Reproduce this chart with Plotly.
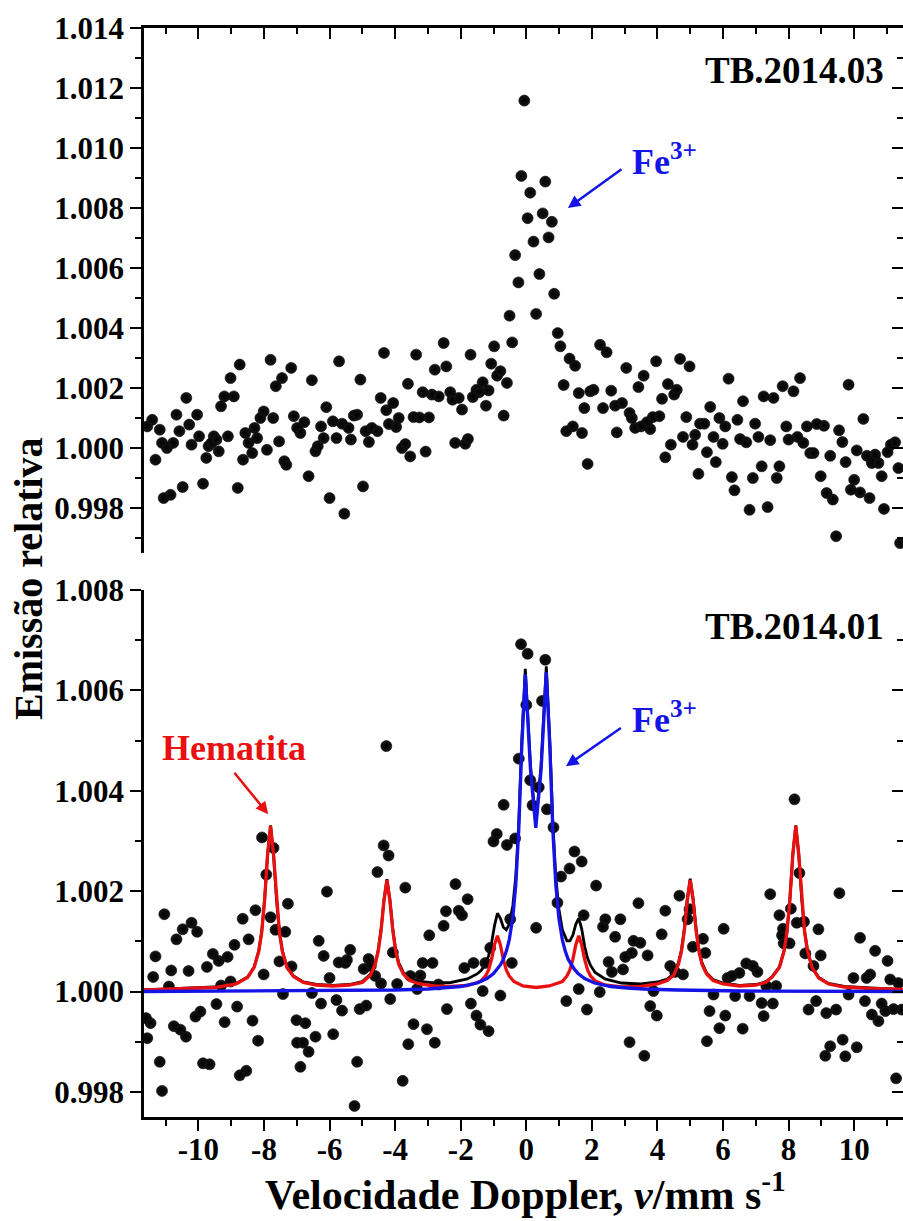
import plotly.graph_objects as go

# ---------------- data ----------------
# Top panel: TB.2014.03 (velocity mm/s, relative emission)
top_v = [-11.56, -11.41, -11.31, -11.18, -11.11, -11.06, -10.96, -10.85, -10.77, -10.67,
         -10.58, -10.48, -10.37, -10.28, -10.21, -10.04, -9.98, -9.86, -9.76, -9.69,
         -9.60, -9.53, -9.45, -9.38, -9.31, -9.21, -9.10, -9.02, -8.92, -8.80,
         -8.74, -8.64, -8.57, -8.47, -8.36, -8.29, -8.21, -8.11, -8.01, -7.91,
         -7.80, -7.72, -7.64, -7.54, -7.45, -7.38, -7.32, -7.17, -7.09, -6.99,
         -6.89, -6.77, -6.64, -6.54, -6.43, -6.36, -6.26, -6.18, -6.10, -6.00,
         -5.90, -5.79, -5.71, -5.62, -5.55, -5.42, -5.35, -5.26, -5.16, -5.06,
         -4.98, -4.90, -4.80, -4.71, -4.54, -4.44, -4.34, -4.27, -4.19, -4.06,
         -3.97, -3.89, -3.79, -3.69, -3.61, -3.54, -3.44, -3.36, -3.26, -3.16,
         -3.07, -2.97, -2.88, -2.79, -2.67, -2.52, -2.44, -2.32, -2.25, -2.17,
         -2.06, -1.96, -1.86, -1.78, -1.70, -1.63, -1.52, -1.43, -1.33, -1.23,
         -1.15, -1.07, -0.98, -0.89, -0.79, -0.69, -0.59, -0.51, -0.43, -0.34,
         -0.24, -0.15, -0.06, 0.04, 0.12, 0.22, 0.30, 0.40, 0.50, 0.58,
         0.68, 0.78, 0.85, 0.96, 1.04, 1.14, 1.22, 1.32, 1.42, 1.49,
         1.60, 1.70, 1.77, 1.87, 1.95, 2.05, 2.25, 2.34, 2.45, 2.59,
         2.71, 2.76, 2.92, 3.05, 3.15, 3.22, 3.32, 3.42, 3.50, 3.58,
         3.68, 3.78, 3.86, 3.96, 4.06, 4.14, 4.24, 4.32, 4.41, 4.51,
         4.59, 4.69, 4.78, 4.88, 4.98, 5.07, 5.15, 5.25, 5.30, 5.43,
         5.51, 5.61, 5.71, 5.78, 5.89, 5.99, 6.07, 6.17, 6.27, 6.35,
         6.44, 6.52, 6.61, 6.71, 6.81, 6.91, 6.98, 7.08, 7.18, 7.24,
         7.36, 7.44, 7.54, 7.64, 7.72, 7.82, 7.93, 8.00, 8.15, 8.27,
         8.35, 8.45, 8.56, 8.66, 8.76, 8.86, 8.98, 9.08, 9.16, 9.27,
         9.35, 9.45, 9.54, 9.64, 9.74, 9.83, 9.90, 10.00, 10.08, 10.18,
         10.28, 10.39, 10.47, 10.54, 10.64, 10.74, 10.84, 10.91, 11.02, 11.12,
         11.25, 11.35, 11.40]
top_e = [1.00072, 1.00094, 0.99961, 1.00061, 1.00017, 0.99833, 1.00000, 0.99844, 1.00017, 1.00111,
         1.00056, 0.99870, 1.00167, 1.00078, 1.00011, 1.00111, 1.00039, 0.99881, 0.99967, 1.00006,
         1.00017, 1.00039, 1.00028, 0.99989, 1.00139, 1.00172, 1.00039, 1.00233, 1.00172, 0.99867,
         1.00278, 0.99961, 1.00050, 1.00017, 0.99983, 1.00067, 1.00033, 1.00100, 1.00122, 0.99994,
         1.00294, 1.00100, 1.00206, 1.00022, 1.00233, 0.99956, 0.99944, 1.00267, 1.00106, 1.00067,
         1.00050, 1.00086, 0.99906, 1.00226, 0.99989, 1.00006, 1.00072, 1.00033, 1.00136, 0.99833,
         1.00089, 1.00033, 1.00289, 1.00081, 0.99781, 1.00067, 1.00028, 1.00108, 1.00111, 1.00228,
         0.99872, 1.00056, 1.00020, 1.00067, 1.00056, 1.00167, 1.00317, 1.00126, 1.00080, 1.00150,
         1.00070, 1.00100, 1.00000, 1.00013, 1.00214, 0.99972, 1.00103, 1.00311, 1.00102, 1.00186,
         0.99988, 1.00102, 1.00178, 1.00261, 1.00172, 1.00350, 1.00272, 1.00186, 1.00161, 1.00017,
         1.00167, 1.00128, 1.00014, 1.00030, 1.00311, 1.00170, 1.00194, 1.00186, 1.00219, 1.00141,
         1.00192, 1.00281, 1.00339, 1.00241, 1.00256, 1.00108, 1.00217, 1.00441, 1.00352, 1.00643,
         1.00552, 1.00907, 1.01158, 1.00766, 1.00851, 1.00688, 1.00447, 1.00580, 1.00782, 1.00888,
         1.00702, 1.00754, 1.00514, 1.00383, 1.00339, 1.00210, 1.00056, 1.00298, 1.00072, 1.00274,
         1.00183, 1.00050, 1.00133, 0.99947, 1.00189, 1.00194, 1.00344, 1.00133, 1.00319, 1.00191,
         1.00141, 1.00052, 1.00150, 1.00267, 1.00117, 1.00100, 1.00067, 1.00203, 1.00072, 1.00241,
         1.00086, 1.00063, 1.00103, 1.00289, 1.00106, 1.00164, 0.99969, 1.00213, 1.00011, 1.00178,
         1.00194, 1.00297, 1.00037, 1.00103, 1.00272, 1.00011, 1.00044, 0.99914, 1.00081, 1.00081,
         0.99986, 1.00137, 1.00037, 0.99953, 1.00100, 1.00014, 1.00072, 1.00231, 0.99903, 0.99859,
         1.00094, 1.00030, 1.00156, 1.00019, 0.99794, 0.99900, 1.00081, 1.00037, 0.99939, 1.00172,
         0.99803, 1.00026, 1.00167, 0.99900, 0.99939, 1.00206, 1.00072, 1.00028, 1.00189, 1.00037,
         1.00233, 1.00017, 1.00072, 0.99983, 0.99983, 1.00080, 0.99906, 1.00074, 0.99850, 0.99974,
         0.99828, 0.99706, 1.00059, 1.00020, 0.99953, 1.00211, 0.99861, 0.99894, 0.99992, 0.99852,
         1.00097, 0.99974, 0.99833, 0.99950, 0.99978, 0.99950, 0.99906, 0.99797, 0.99986, 1.00011,
         1.00019, 0.99933, 0.99683]

# Bottom panel: TB.2014.01
bot_v = [-11.60, -11.56, -11.46, -11.38, -11.31, -11.18, -11.11, -11.04, -10.90, -10.83,
         -10.75, -10.67, -10.55, -10.48, -10.38, -10.30, -10.21, -10.09, -10.04, -9.94,
         -9.86, -9.74, -9.66, -9.56, -9.45, -9.38, -9.31, -9.20, -9.11, -9.02,
         -8.90, -8.82, -8.74, -8.65, -8.54, -8.47, -8.35, -8.26, -8.18, -8.06,
         -8.01, -7.93, -7.80, -7.71, -7.65, -7.53, -7.42, -7.35, -7.27, -7.16,
         -7.01, -6.99, -6.89, -6.81, -6.74, -6.64, -6.54, -6.43, -6.33, -6.26,
         -6.18, -6.08, -6.00, -5.89, -5.79, -5.72, -5.62, -5.52, -5.47, -5.37,
         -5.24, -5.16, -5.08, -4.96, -4.88, -4.81, -4.74, -4.61, -4.54, -4.43,
         -4.35, -4.27, -4.20, -4.15, -4.07, -3.94, -3.77, -3.69, -3.60, -3.54,
         -3.44, -3.33, -3.23, -3.16, -3.03, -2.96, -2.86, -2.79, -2.68, -2.52,
         -2.45, -2.42, -2.16, -2.06, -1.96, -1.89, -1.79, -1.69, -1.61, -1.52,
         -1.40, -1.33, -1.25, -1.15, -1.10, -1.00, -0.90, -0.79, -0.69, -0.59,
         -0.49, -0.44, -0.34, -0.23, -0.16, 0.00, 0.04, 0.12, 0.19, 0.30,
         0.38, 0.48, 0.58, 0.63, 0.83, 0.95, 1.06, 1.22, 1.32, 1.47,
         1.60, 1.69, 1.75, 1.85, 2.13, 2.24, 2.34, 2.41, 2.51, 2.61,
         2.71, 2.87, 2.95, 3.02, 3.15, 3.22, 3.27, 3.42, 3.48, 3.60,
         3.70, 3.78, 3.88, 3.98, 4.13, 4.24, 4.39, 4.54, 4.67, 4.78,
         4.92, 4.98, 5.08, 5.39, 5.46, 5.51, 5.59, 5.71, 5.89, 6.02,
         6.07, 6.14, 6.27, 6.37, 6.50, 6.60, 6.71, 6.81, 6.91, 7.05,
         7.18, 7.24, 7.32, 7.44, 7.52, 7.62, 7.72, 7.80, 7.83, 7.85,
         8.03, 8.07, 8.18, 8.25, 8.33, 8.47, 8.51, 8.61, 8.76, 8.84,
         8.91, 8.98, 9.12, 9.15, 9.27, 9.45, 9.55, 9.65, 9.73, 9.83,
         9.98, 10.08, 10.18, 10.33, 10.38, 10.49, 10.54, 10.64, 10.74, 10.84,
         10.95, 11.02, 11.10, 11.20, 11.28, 11.35, 11.45]
bot_e = [0.99947, 0.99907, 0.99937, 1.00029, 1.00070, 0.99860, 0.99802, 1.00154, 1.00010, 1.00042,
         0.99931, 1.00104, 0.99924, 1.00124, 0.99910, 1.00041, 1.00137, 0.99950, 1.00119, 0.99960,
         0.99857, 1.00049, 0.99855, 1.00075, 0.99975, 1.00061, 1.00012, 0.99939, 1.00069, 1.00020,
         1.00093, 0.99970, 0.99833, 1.00145, 0.99842, 1.00104, 0.99942, 1.00162, 0.99902, 1.00307,
         1.00034, 1.00233, 1.00148, 1.00286, 1.00123, 1.00060, 0.99995, 1.00119, 1.00175, 1.00050,
         0.99943, 0.99898, 0.99850, 0.99898, 0.99937, 0.99880, 0.99997, 0.99910, 1.00101, 0.99976,
         1.00071, 1.00199, 1.00027, 0.99915, 0.99983, 1.00058, 0.99962, 1.00057, 1.00063, 1.00083,
         0.99772, 0.99860, 0.99965, 1.00045, 0.99972, 1.00065, 1.00051, 1.00031, 1.00238, 1.00016,
         1.00291, 1.00489, 1.00271, 0.99985, 1.00078, 1.00015, 0.99822, 1.00207, 0.99895, 1.00031,
         0.99935, 1.00005, 1.00032, 1.00057, 0.99925, 1.00112, 1.00057, 0.99898, 1.00014, 1.00131,
         1.00160, 0.99965, 1.00214, 1.00161, 1.00152, 1.00047, 1.00184, 0.99976, 1.00057, 0.99952,
         0.99934, 1.00001, 1.00057, 0.99921, 1.00087, 1.00299, 1.00314, 0.99992, 1.00372, 1.00292,
         1.00144, 1.00057, 1.00305, 1.00464, 1.00692, 1.00571, 1.00673, 1.00421, 1.00371, 1.00127,
         1.00407, 1.00579, 1.00661, 1.00363, 1.00327, 1.00177, 1.00229, 0.99981, 1.00245, 1.00279,
         1.00005, 1.00259, 1.00152, 0.99964, 1.00211, 0.99999, 1.00129, 1.00144, 1.00059, 1.00039,
         1.00109, 1.00144, 1.00044, 1.00069, 0.99899, 1.00077, 1.00101, 1.00176, 1.00097, 0.99872,
         1.00072, 0.99971, 1.00001, 0.99952, 1.00114, 1.00161, 1.00051, 1.00039, 1.00191, 1.00034,
         1.00144, 1.00164, 1.00089, 1.00105, 1.00077, 0.99901, 0.99961, 0.99994, 0.99927, 1.00125,
         0.99952, 1.00027, 1.00031, 0.99991, 1.00037, 0.99926, 1.00056, 0.99991, 1.00051, 1.00039,
         0.99977, 0.99951, 1.00011, 1.00194, 0.99976, 1.00011, 1.00152, 1.00112, 1.00125, 1.00096,
         1.00096, 1.00165, 1.00383, 1.00137, 1.00236, 1.00139, 1.00076, 0.99964, 1.00051, 0.99981,
         1.00124, 1.00072, 0.99872, 0.99957, 0.99891, 0.99964, 1.00196, 0.99904, 0.99871, 0.99994,
         1.00027, 0.99889, 1.00107, 0.99981, 1.00027, 1.00034, 0.99954, 1.00081, 0.99941, 0.99976,
         0.99961, 1.00061, 1.00024, 0.99965, 0.99827, 1.00017, 0.99964]

# Fitted curves of the bottom panel (vertices)
hem_v = [-11.66, -10.5, -9.5, -8.85, -8.5, -8.3, -8.16, -8.07, -7.98, -7.89, -7.80, -7.71, -7.62,
         -7.53, -7.44, -7.30, -7.10, -6.80, -6.40, -5.90, -5.40, -5.00, -4.75, -4.61, -4.52,
         -4.43, -4.34, -4.25, -4.16, -4.07, -3.98, -3.89, -3.75, -3.55, -3.25, -2.80, -2.30,
         -1.80, -1.50, -1.38, -1.24, -1.15, -1.06, -0.97, -0.88, -0.79, -0.70, -0.61, -0.52,
         -0.38, -0.10, 0.30, 0.70, 1.00, 1.10, 1.24, 1.33, 1.42, 1.51, 1.60, 1.69, 1.78, 1.87,
         1.96, 2.10, 2.40, 2.90, 3.50, 4.00, 4.30, 4.50, 4.64, 4.73, 4.82, 4.91, 5.00, 5.09,
         5.18, 5.27, 5.36, 5.50, 5.70, 6.00, 6.50, 7.00, 7.30, 7.50, 7.72, 7.86, 7.95, 8.04,
         8.13, 8.22, 8.31, 8.40, 8.49, 8.58, 8.72, 8.92, 9.22, 9.70, 10.50, 11.49]
hem_e = [1.00003, 1.00005, 1.00008, 1.00015, 1.00028, 1.00048, 1.00080, 1.00118, 1.00183, 1.00273,
         1.00330, 1.00273, 1.00183, 1.00118, 1.00080, 1.00048, 1.00030, 1.00018, 1.00013, 1.00011,
         1.00013, 1.00018, 1.00033, 1.00054, 1.00079, 1.00121, 1.00181, 1.00222, 1.00181, 1.00121,
         1.00079, 1.00054, 1.00035, 1.00022, 1.00015, 1.00011, 1.00010, 1.00012, 1.00018, 1.00021,
         1.00031, 1.00043, 1.00064, 1.00093, 1.00111, 1.00093, 1.00064, 1.00043, 1.00031, 1.00020,
         1.00011, 1.00008, 1.00011, 1.00018, 1.00020, 1.00031, 1.00043, 1.00064, 1.00093, 1.00111,
         1.00093, 1.00064, 1.00043, 1.00031, 1.00021, 1.00013, 1.00009, 1.00010, 1.00015, 1.00022,
         1.00033, 1.00054, 1.00079, 1.00121, 1.00181, 1.00222, 1.00181, 1.00121, 1.00079, 1.00054,
         1.00035, 1.00022, 1.00015, 1.00011, 1.00013, 1.00018, 1.00029, 1.00048, 1.00080, 1.00118,
         1.00183, 1.00273, 1.00330, 1.00273, 1.00183, 1.00118, 1.00080, 1.00047, 1.00027, 1.00015,
         1.00009, 1.00006, 1.00004]

fe_v = [-11.66, -6.0, -4.0, -3.0, -2.5, -2.0, -1.5, -1.2, -1.0, -0.88, -0.79, -0.70, -0.61,
        -0.52, -0.41, -0.32, -0.23, -0.14, -0.03, 0.13, 0.29, 0.45, 0.61, 0.72, 0.81, 0.90,
        0.99, 1.10, 1.19, 1.28, 1.37, 1.46, 1.58, 1.78, 2.08, 2.58, 3.08, 3.58, 4.6, 6.6, 11.49]
fe_e = [1.00000, 1.00001, 1.00003, 1.00005, 1.00007, 1.00010, 1.00017, 1.00026, 1.00036, 1.00045,
        1.00053, 1.00064, 1.00080, 1.00103, 1.00148, 1.00213, 1.00321, 1.00484, 1.00632, 1.00440,
        1.00326, 1.00440, 1.00636, 1.00484, 1.00321, 1.00213, 1.00148, 1.00103, 1.00080, 1.00064,
        1.00053, 1.00045, 1.00036, 1.00026, 1.00017, 1.00010, 1.00007, 1.00005, 1.00003, 1.00001,
        1.00000]

tot_v = [-11.66, -10.5, -9.5, -8.85, -8.5, -8.3, -8.16, -8.07, -7.98, -7.89, -7.80, -7.71, -7.62,
         -7.53, -7.44, -7.30, -7.10, -6.80, -6.40, -5.90, -5.40, -5.00, -4.75, -4.61, -4.52,
         -4.43, -4.34, -4.25, -4.16, -4.07, -3.98, -3.89, -3.75, -3.55, -3.25, -2.80, -2.30,
         -1.80, -1.50, -1.38, -1.24, -1.15, -1.06, -0.97, -0.88, -0.79, -0.70, -0.61, -0.52,
         -0.41, -0.32, -0.23, -0.14, -0.03, 0.13, 0.29, 0.45, 0.61, 0.72, 0.81, 0.90, 0.99,
         1.10, 1.24, 1.33, 1.42, 1.51, 1.60, 1.69, 1.78, 1.87, 1.96, 2.10, 2.40, 2.90, 3.50,
         4.00, 4.30, 4.50, 4.64, 4.73, 4.82, 4.91, 5.00, 5.09, 5.18, 5.27, 5.36, 5.50, 5.70,
         6.00, 6.50, 7.00, 7.30, 7.50, 7.72, 7.86, 7.95, 8.04, 8.13, 8.22, 8.31, 8.40, 8.49,
         8.58, 8.72, 8.92, 9.22, 9.70, 10.50, 11.49]
tot_e = [1.00003, 1.00006, 1.00009, 1.00016, 1.00029, 1.00049, 1.00081, 1.00119, 1.00184, 1.00274,
         1.00331, 1.00274, 1.00184, 1.00119, 1.00081, 1.00049, 1.00031, 1.00019, 1.00014, 1.00012,
         1.00014, 1.00020, 1.00035, 1.00056, 1.00081, 1.00123, 1.00183, 1.00224, 1.00183, 1.00123,
         1.00082, 1.00057, 1.00038, 1.00026, 1.00020, 1.00017, 1.00018, 1.00025, 1.00035, 1.00042,
         1.00055, 1.00071, 1.00096, 1.00131, 1.00156, 1.00146, 1.00128, 1.00123, 1.00134, 1.00171,
         1.00230, 1.00336, 1.00496, 1.00643, 1.00449, 1.00334, 1.00450, 1.00648, 1.00498, 1.00336,
         1.00229, 1.00166, 1.00123, 1.00101, 1.00101, 1.00112, 1.00134, 1.00146, 1.00125, 1.00090,
         1.00066, 1.00052, 1.00038, 1.00025, 1.00017, 1.00015, 1.00019, 1.00025, 1.00036, 1.00057,
         1.00082, 1.00124, 1.00184, 1.00225, 1.00184, 1.00124, 1.00082, 1.00057, 1.00037, 1.00024,
         1.00017, 1.00012, 1.00014, 1.00019, 1.00030, 1.00049, 1.00081, 1.00119, 1.00184, 1.00274,
         1.00331, 1.00274, 1.00184, 1.00119, 1.00081, 1.00048, 1.00028, 1.00016, 1.00010, 1.00007,
         1.00004]

x_ticks = [-10, -8, -6, -4, -2, 0, 2, 4, 6, 8, 10]
x_ticktext = ["-10", "-8", "-6", "-4", "-2", "0", "2", "4", "6", "8", "10"]
top_yticks = [0.998, 1.000, 1.002, 1.004, 1.006, 1.008, 1.010, 1.012, 1.014]
bot_yticks = [0.998, 1.000, 1.002, 1.004, 1.006, 1.008]

# ---------------- styling ----------------
W, H = 903, 1221
SERIF = "Liberation Serif, Times New Roman, serif"
BLUE = "#1414e6"
RED = "#e81010"
XR = [-11.66, 11.49]
XDOM = [144 / W, 1.0]
TOP_DOM = [(H - 553) / H, (H - 28) / H]
BOT_DOM = [(H - 1117) / H, (H - 590) / H]


def px_y(p):
    return (H - p) / H


def px_x(p):
    return p / W


fig = go.Figure()

marker = dict(size=11, color="#161616", line=dict(width=0.6, color="#000000"),
              gradient=dict(type="radial", color="#000000"))

fig.add_trace(go.Scatter(x=top_v, y=top_e, mode="markers", marker=marker,
                         xaxis="x", yaxis="y", showlegend=False))

fig.add_trace(go.Scatter(x=tot_v, y=tot_e, mode="lines", line=dict(color="black", width=2.8),
                         xaxis="x2", yaxis="y2", showlegend=False))
fig.add_trace(go.Scatter(x=bot_v, y=bot_e, mode="markers", marker=marker,
                         xaxis="x2", yaxis="y2", showlegend=False))
fig.add_trace(go.Scatter(x=hem_v, y=hem_e, mode="lines", line=dict(color=RED, width=3.3),
                         xaxis="x2", yaxis="y2", showlegend=False))
fig.add_trace(go.Scatter(x=fe_v, y=fe_e, mode="lines", line=dict(color=BLUE, width=3.3),
                         xaxis="x2", yaxis="y2", showlegend=False))
# carriers for the right-hand tick axes
fig.add_trace(go.Scatter(x=[], y=[], xaxis="x", yaxis="y3", showlegend=False))
fig.add_trace(go.Scatter(x=[], y=[], xaxis="x2", yaxis="y4", showlegend=False))

tickfont = dict(family=SERIF, size=31, color="black", weight="bold")

common_x = dict(range=XR, domain=XDOM, tickvals=x_ticks, ticktext=x_ticktext,
                showgrid=False, zeroline=False, showline=True, linecolor="black",
                linewidth=2.5, tickcolor="black", tickwidth=2, ticklen=11, automargin=False)

common_y = dict(tickformat=".3f", ticklen=11, tickwidth=2, tickcolor="black",
                showgrid=False, zeroline=False, automargin=False)


def minor(direction):
    return dict(ticklen=6, tickwidth=2, tickcolor="black", ticks=direction)


fig.update_layout(
    width=W, height=H,
    margin=dict(l=0, r=0, t=0, b=0, autoexpand=False),
    paper_bgcolor="white", plot_bgcolor="white",
    showlegend=False,
    xaxis=dict(common_x, anchor="y", side="top", ticks="inside", showticklabels=False,
               minor=dict(minor("inside"), dtick=1, tick0=0)),
    xaxis2=dict(common_x, anchor="y2", side="bottom", ticks="outside", tickfont=tickfont,
                ticklabelstandoff=-8,
                minor=dict(minor("outside"), dtick=1, tick0=0)),
    yaxis=dict(common_y, range=[0.9965, 1.014], domain=TOP_DOM, anchor="x", tickvals=top_yticks,
               ticks="outside", showline=True, linecolor="black", linewidth=2.5, tickfont=tickfont,
               minor=dict(minor("outside"), dtick=0.001, tick0=1.0)),
    yaxis2=dict(common_y, range=[0.9975, 1.008], domain=BOT_DOM, anchor="x2", tickvals=bot_yticks,
                ticks="outside", showline=True, linecolor="black", linewidth=2.5, tickfont=tickfont,
                minor=dict(minor("outside"), dtick=0.001, tick0=1.0)),
    yaxis3=dict(common_y, range=[0.9965, 1.014], overlaying="y", side="right", anchor="x",
                tickvals=top_yticks, ticks="inside", showline=False, showticklabels=False,
                minor=dict(minor("inside"), dtick=0.001, tick0=1.0)),
    yaxis4=dict(common_y, range=[0.9975, 1.008], overlaying="y2", side="right", anchor="x2",
                tickvals=bot_yticks, ticks="inside", showline=False, showticklabels=False,
                minor=dict(minor("inside"), dtick=0.001, tick0=1.0)),
)


def bold(size, color="black"):
    return dict(family=SERIF, size=size, color=color, weight="bold")


annotations = [
    dict(text="Emissão relativa", x=px_x(28), y=px_y(579), xref="paper", yref="paper",
         textangle=-90, showarrow=False, font=bold(40), xanchor="center", yanchor="middle"),
    dict(text="Velocidade Doppler, <i>v</i>/mm s<sup>-1</sup>", x=px_x(525), y=px_y(1191),
         xref="paper", yref="paper", showarrow=False, font=bold(42),
         xanchor="center", yanchor="middle"),
    dict(text="TB.2014.03", x=px_x(886), y=px_y(71), xref="paper", yref="paper",
         showarrow=False, font=bold(37), xanchor="right", yanchor="middle"),
    dict(text="TB.2014.01", x=px_x(886), y=px_y(626), xref="paper", yref="paper",
         showarrow=False, font=bold(37), xanchor="right", yanchor="middle"),
    dict(text="Fe<sup>3+</sup>", x=px_x(630), y=px_y(160), xref="paper", yref="paper",
         showarrow=False, font=bold(36, BLUE), xanchor="left", yanchor="middle"),
    dict(text="Fe<sup>3+</sup>", x=px_x(630), y=px_y(717), xref="paper", yref="paper",
         showarrow=False, font=bold(36, BLUE), xanchor="left", yanchor="middle"),
    dict(text="Hematita", x=px_x(234), y=px_y(748), xref="paper", yref="paper",
         showarrow=False, font=bold(36, RED), xanchor="center", yanchor="middle"),
    # arrows
    dict(text="", x=1.27, y=1.0080, ax=2.95, ay=1.00933, xref="x", yref="y", axref="x", ayref="y",
         showarrow=True, arrowhead=2, arrowsize=1, arrowwidth=2.5, arrowcolor=BLUE),
    dict(text="", x=1.21, y=1.00449, ax=2.93, ay=1.00527, xref="x2", yref="y2", axref="x2", ayref="y2",
         showarrow=True, arrowhead=2, arrowsize=1, arrowwidth=2.5, arrowcolor=BLUE),
    dict(text="", x=-7.87, y=1.00353, ax=-8.94, ay=1.00439, xref="x2", yref="y2", axref="x2", ayref="y2",
         showarrow=True, arrowhead=2, arrowsize=1, arrowwidth=2.5, arrowcolor=RED),
]
fig.update_layout(annotations=annotations)

fig.write_html("out.html")
